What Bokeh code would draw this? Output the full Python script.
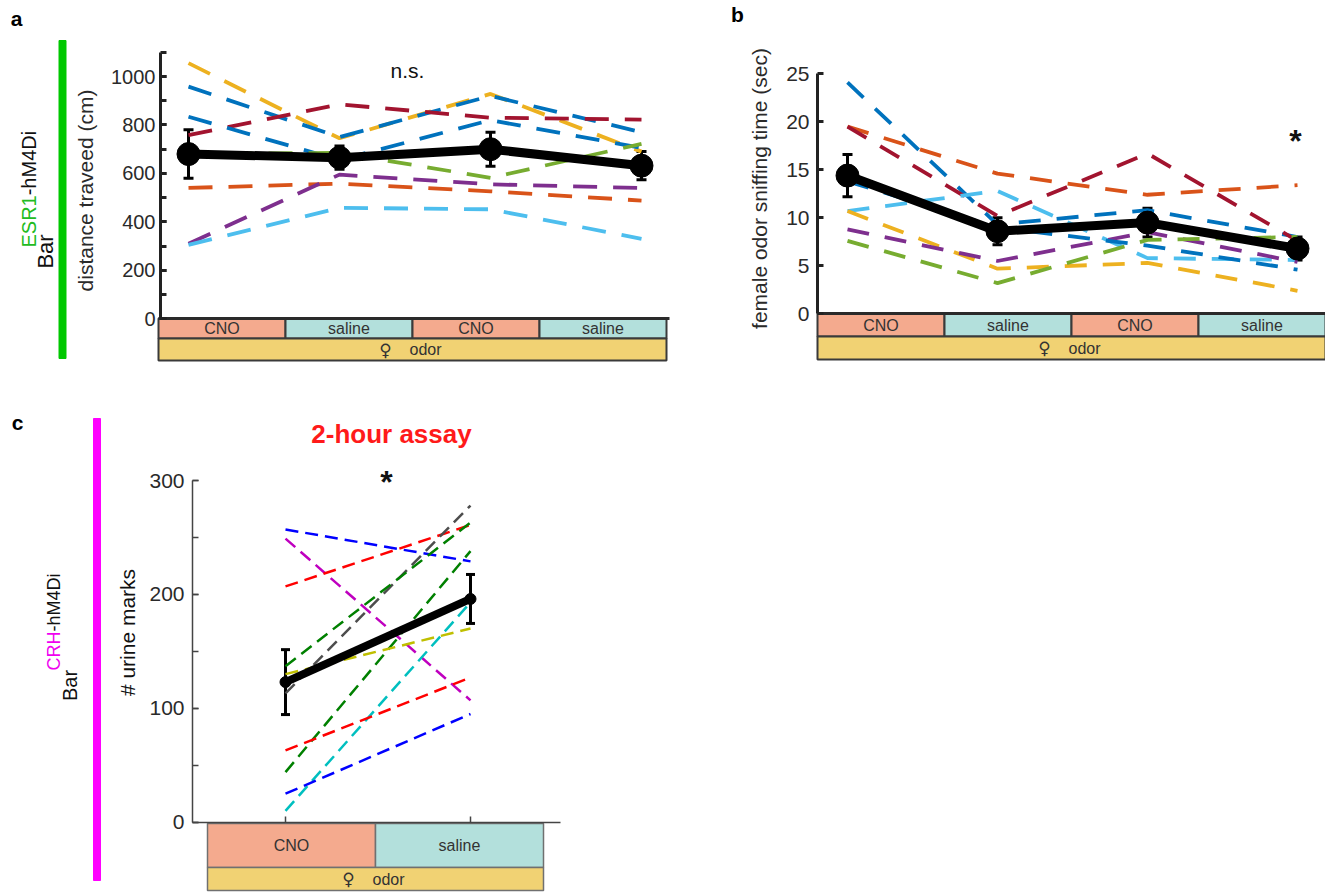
from bokeh.plotting import figure
from bokeh.models import (Range1d, LinearAxis, SingleIntervalTicker, FixedTicker,
                          ColumnDataSource, Whisker, TeeHead)
from bokeh.core.properties import value
from bokeh.embed import file_html
from bokeh.resources import INLINE
import math

FONT = "Liberation Sans"

# ------------------------------------------------------------------ data
conditions_ab = ["CNO", "saline", "CNO", "saline"]
conditions_c = ["CNO", "saline"]
odor_text = "odor"
female_sign = "\u2640"

# panel a : distance travelled (cm)
a_mean = [680, 665, 700, 632]
a_err = [100, 48, 70, 58]
a_yellow = [1055, 745, 928, 690]
a_blue1 = [958, 750, 920, 770]
a_blue2 = [834, 655, 820, 705]
a_darkred = [758, 885, 830, 822]
a_green = [680, 685, 582, 722]
a_purple = [310, 595, 555, 540]
a_orange = [540, 558, 526, 488]
a_lightblue = [305, 458, 452, 330]

# panel b : female odor sniffing time (sec)
b_mean = [14.4, 8.6, 9.5, 6.8]
b_err = [2.2, 1.4, 1.5, 1.2]
b_blue1 = [24.1, 9.3, 10.8, 8.0]
b_orange = [19.5, 14.6, 12.4, 13.4]
b_darkred = [19.5, 10.2, 16.7, 7.6]
b_lightblue = [10.7, 12.8, 5.8, 5.6]
b_yellow = [10.7, 4.7, 5.3, 2.4]
b_purple = [8.8, 5.5, 8.5, 5.4]
b_green = [7.6, 3.2, 7.7, 8.0]
b_blue2 = [13.8, 9.0, 7.1, 4.6]

# panel c : # urine marks
c_mean = [123, 196]
c_err = [28.5, 21.5]
c_blue1 = [257, 229]
c_magenta = [249, 107]
c_red1 = [207, 261]
c_gray = [113, 278]
c_green1 = [137, 263]
c_green2 = [44, 238]
c_yellow = [130, 170]
c_cyan = [10, 193]
c_red2 = [63, 127]
c_blue2 = [25, 95]

# colours
M_BLUE, M_ORANGE, M_YELLOW = "#0072BD", "#D95319", "#EDB120"
M_PURPLE, M_GREEN, M_LBLUE, M_DRED = "#7E2F8E", "#77AC30", "#4DBEEE", "#A2142F"
a_series = [(a_yellow, M_YELLOW), (a_blue1, M_BLUE), (a_darkred, M_DRED),
            (a_blue2, M_BLUE), (a_green, M_GREEN), (a_orange, M_ORANGE),
            (a_purple, M_PURPLE), (a_lightblue, M_LBLUE)]
b_series = [(b_blue1, M_BLUE), (b_orange, M_ORANGE), (b_darkred, M_DRED),
            (b_lightblue, M_LBLUE), (b_yellow, M_YELLOW), (b_purple, M_PURPLE),
            (b_green, M_GREEN), (b_blue2, M_BLUE)]
c_series = [(c_blue1, "#0000FF"), (c_magenta, "#BF00BF"), (c_red1, "#FF0000"),
            (c_gray, "#4D4D4D"), (c_green1, "#008000"), (c_green2, "#008000"),
            (c_yellow, "#BFBF00"), (c_cyan, "#00BFBF"), (c_red2, "#FF0000"),
            (c_blue2, "#0000FF")]
CNO_COL, SAL_COL, ODOR_COL = "#F4AA8E", "#B3E0DC", "#F1D273"
cond_colors = {"CNO": CNO_COL, "saline": SAL_COL}

# ------------------------------------------------------------------ canvas
W, H = 1325, 892
L, T = 0, 0


def vrange(v0, y0, v1, y1):
    s = (v1 - v0) / (y0 - y1)
    return Range1d(v0 - (T + H - y0) * s, v0 + (y0 - T) * s)


def hrange(v0, x0, v1, x1):
    s = (v1 - v0) / (x1 - x0)
    return Range1d(v0 - (x0 - L) * s, v0 + (L + W - x0) * s)


p = figure(width=W, height=H, x_range=Range1d(L, L + W), y_range=Range1d(T + H, T),
           x_axis_type=None, y_axis_type=None, toolbar_location=None,
           output_backend="svg", min_border=0, outline_line_color=None)
p.background_fill_color = "white"

p.extra_x_ranges = {
    "ax": hrange(1, 188, 4, 641), "abar": hrange(0, 158, 4, 666),
    "bx": hrange(1, 847, 4, 1297), "bbar": hrange(0, 817, 4, 1325),
    "cx": hrange(1, 285, 2, 470), "cbar": hrange(0, 207, 2, 543),
}
p.extra_y_ranges = {
    "ay": vrange(0, 318.3, 1000, 76.0),
    "by": vrange(0, 313.3, 25, 73.3),
    "cy": vrange(0, 821.7, 300, 480.0),
}


def txt(x, y, s, size, color="#222222", bold=False, angle=0.0, align="center",
        baseline="middle", font=FONT, xr="default", x_offset=0):
    p.text(x=[x], y=[y], text=[s], text_font=value(font), text_font_size=f"{size}px",
           text_color=color, text_font_style="bold" if bold else "normal",
           angle=angle, text_align=align, text_baseline=baseline,
           x_range_name=xr, x_offset=x_offset)


def condition_bars(xr, conds, top, mid, bottom, line_col, line_w, size):
    n = len(conds)
    idx = list(range(n))
    p.quad(left=idx, right=[i + 1 for i in idx], top=top, bottom=mid,
           fill_color=[cond_colors[c] for c in conds], line_color=line_col,
           line_width=line_w, x_range_name=xr)
    p.quad(left=[0], right=[n], top=mid, bottom=bottom, fill_color=ODOR_COL,
           line_color=line_col, line_width=line_w, x_range_name=xr)
    p.text(x=[i + 0.5 for i in idx], y=[(top + mid) / 2] * n, text=conds,
           text_font=value(FONT), text_font_size=f"{size}px", text_color="#333333",
           text_align="center", text_baseline="middle", x_range_name=xr)
    cy_ = (mid + bottom) / 2
    txt(n / 2, cy_, female_sign, size + 1, "#333333", font="DejaVu Sans", xr=xr, x_offset=-27)
    txt(n / 2, cy_, odor_text, size, "#333333", align="left", xr=xr, x_offset=-3)


def y_axis(rn, loc, bounds, interval, minor, width, color, tick, size, standoff):
    ax = LinearAxis(y_range_name=rn, fixed_location=loc, bounds=bounds,
                    ticker=SingleIntervalTicker(interval=interval, num_minor_ticks=minor),
                    axis_line_width=width, axis_line_color=color,
                    major_tick_in=tick, major_tick_out=0, minor_tick_in=tick, minor_tick_out=0,
                    major_tick_line_width=width, minor_tick_line_width=width,
                    major_tick_line_color=color, minor_tick_line_color=color,
                    major_label_text_font=FONT, major_label_text_font_size=f"{size}px",
                    major_label_text_color="#2a2a2a", major_label_standoff=standoff)
    p.add_layout(ax, "left")


def data_panel(xr, yr, series, mean, err, lw, dash, mlw, msize, head, elw):
    xs = [i + 1 for i in range(len(mean))]
    for vals, col in series:
        p.line(x=xs, y=vals, line_color=col, line_width=lw, line_dash=dash,
               x_range_name=xr, y_range_name=yr)
    p.line(x=xs, y=mean, line_color="black", line_width=mlw, line_join="round",
           x_range_name=xr, y_range_name=yr)
    src = ColumnDataSource(dict(x=xs, upper=[m + e for m, e in zip(mean, err)],
                                lower=[m - e for m, e in zip(mean, err)]))
    p.add_layout(Whisker(source=src, base="x", upper="upper", lower="lower",
                         x_range_name=xr, y_range_name=yr, line_width=elw, line_color="black",
                         upper_head=TeeHead(size=head, line_width=elw, line_color="black"),
                         lower_head=TeeHead(size=head, line_width=elw, line_color="black")))
    p.scatter(x=xs, y=mean, size=msize, color="black", marker="circle",
              x_range_name=xr, y_range_name=yr)


# ------------------------------------------------------------------ panel a
txt(16, 18, "a", 21, "black", bold=True)
p.quad(left=[58.5], right=[65.5], top=[40], bottom=[358], color="#00C800")
txt(45, 251, "Bar", 22, "#111111", angle=math.pi / 2)
txt(28, 247, "ESR1", 20, "#22BB22", angle=math.pi / 2, align="left")
txt(28, 247 - 52.2, "-hM4Di", 20, "#111111", angle=math.pi / 2, align="left")
txt(85, 190, "distance traveed (cm)", 21, "#2a2a2a", angle=math.pi / 2)
condition_bars("abar", conditions_ab, 318, 338, 360, "#3a3a3a", 2, 16)
y_axis("ay", 160, (0, 1101), 200, 2, 3, "#222222", 6, 20, 5)
xa = LinearAxis(x_range_name="abar", fixed_location=318, bounds=(0, 4.02),
                ticker=FixedTicker(ticks=[]), axis_line_width=3, axis_line_color="#2a2a2a",
                major_label_text_color=None)
p.add_layout(xa, "below")
data_panel("ax", "ay", a_series, a_mean, a_err, 3.8, "24 16", 9, 23, 10, 3)
txt(407, 70, "n.s.", 21, "#111111")

# ------------------------------------------------------------------ panel b
txt(737, 14, "b", 21, "black", bold=True)
txt(759, 188, "female odor sniffing time (sec)", 21, "#2a2a2a", angle=math.pi / 2)
condition_bars("bbar", conditions_ab, 313, 336, 359, "#3a3a3a", 2, 16)
y_axis("by", 817, (0, 25), 5, 0, 3, "#222222", 6, 21, 8)
xb = LinearAxis(x_range_name="bbar", fixed_location=313, bounds=(0, 4.0),
                ticker=FixedTicker(ticks=[]), axis_line_width=3, axis_line_color="#2a2a2a",
                major_label_text_color=None)
p.add_layout(xb, "below")
data_panel("bx", "by", b_series, b_mean, b_err, 3.8, "22 16", 9, 23, 10, 3)
txt(1295, 140, "*", 32, "#111111", bold=True, baseline="alphabetic")

# ------------------------------------------------------------------ panel c
txt(17, 422, "c", 21, "black", bold=True)
p.quad(left=[93], right=[100], top=[418], bottom=[880], color="#FF00FF")
txt(69, 685, "Bar", 20, "#111111", angle=math.pi / 2)
txt(53, 670, "CRH", 18, "#F000F0", angle=math.pi / 2, align="left")
txt(53, 670 - 39.0, "-hM4Di", 18, "#111111", angle=math.pi / 2, align="left")
txt(127, 632, "# urine marks", 21, "#111111", angle=math.pi / 2)
txt(391, 433, "2-hour assay", 26, "#FF1A1A", bold=True)
txt(386, 481, "*", 32, "#111111", bold=True, baseline="alphabetic")
condition_bars("cbar", conditions_c, 823, 867, 890, "#707070", 1.5, 16)
y_axis("cy", 192, (0, 300), 100, 2, 1.5, "#444444", 6, 21, 8)
c_lo = 1 + (192 - 285) / 185.0
c_hi = 1 + (560 - 285) / 185.0
xc = LinearAxis(x_range_name="cx", fixed_location=822, bounds=(c_lo, c_hi),
                ticker=FixedTicker(ticks=[1, 2]), axis_line_width=1.5, axis_line_color="#444444",
                major_tick_in=6, major_tick_out=0, major_tick_line_width=1.5,
                major_tick_line_color="#444444", major_label_text_color=None)
p.add_layout(xc, "below")
data_panel("cx", "cy", c_series, c_mean, c_err, 2.5, "13 7", 8, 11, 9, 3)

open("out.html", "w").write(file_html(p, INLINE))
